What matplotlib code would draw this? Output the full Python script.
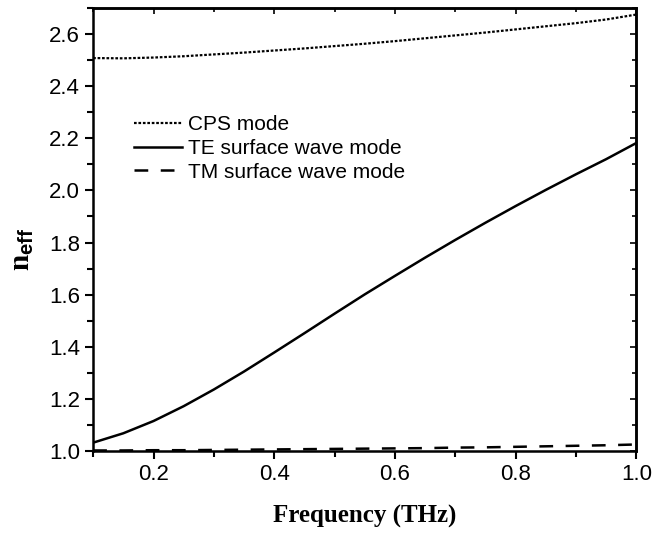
import matplotlib
matplotlib.use("Agg")
import matplotlib.pyplot as plt
from matplotlib.ticker import MultipleLocator

freq = [0.10, 0.15, 0.20, 0.25, 0.30, 0.35, 0.40, 0.45, 0.50, 0.55, 0.60,
        0.65, 0.70, 0.75, 0.80, 0.85, 0.90, 0.95, 1.00]
n_cps = [2.508, 2.507, 2.510, 2.515, 2.522, 2.529, 2.537, 2.545, 2.554, 2.563, 2.573,
         2.584, 2.595, 2.606, 2.618, 2.630, 2.642, 2.656, 2.675]
n_te = [1.032, 1.068, 1.115, 1.172, 1.236, 1.305, 1.378, 1.452, 1.527, 1.601, 1.672,
        1.742, 1.810, 1.876, 1.940, 2.002, 2.062, 2.120, 2.182]
n_tm = [1.002, 1.002, 1.003, 1.003, 1.004, 1.005, 1.006, 1.007, 1.008, 1.009, 1.010,
        1.011, 1.013, 1.014, 1.016, 1.018, 1.020, 1.022, 1.025]

plt.rcParams['font.family'] = ['Liberation Sans', 'DejaVu Sans']
plt.rcParams['mathtext.fontset'] = 'custom'
plt.rcParams['mathtext.bf'] = 'Liberation Serif:bold'
plt.rcParams['mathtext.rm'] = 'Liberation Serif'
plt.rcParams['mathtext.sf'] = 'Liberation Sans:bold'

fig = plt.figure(figsize=(6.56, 5.36), dpi=100)
ax = fig.add_axes([0.142, 0.1586, 0.828, 0.8264])

ax.plot(freq, n_cps, color='black', lw=1.6, linestyle=(0, (1.2, 0.8)), label='CPS mode')
ax.plot(freq, n_te, color='black', lw=1.8, label='TE surface wave mode')
ax.plot(freq, n_tm, color='black', lw=1.8, linestyle=(0, (5.5, 5)), label='TM surface wave mode')

ax.set_xlim(0.1, 1.0)
ax.set_ylim(1.0, 2.7)
ax.xaxis.set_minor_locator(MultipleLocator(0.1))
ax.yaxis.set_minor_locator(MultipleLocator(0.1))
ax.set_xticks([0.2, 0.4, 0.6, 0.8, 1.0])
ax.set_yticks([1.0, 1.2, 1.4, 1.6, 1.8, 2.0, 2.2, 2.4, 2.6])
ax.set_xticklabels(['0.2', '0.4', '0.6', '0.8', '1.0'])
ax.set_yticklabels(['1.0', '1.2', '1.4', '1.6', '1.8', '2.0', '2.2', '2.4', '2.6'])

ax.tick_params(which='major', direction='out', length=6, width=1.5, labelsize=16)
ax.tick_params(which='minor', direction='out', length=4, width=1.5)
for s in ax.spines.values():
    s.set_linewidth(1.8)

# inward ticks on top and right
top = ax.secondary_xaxis('top')
top.xaxis.set_major_locator(MultipleLocator(0.2))
top.xaxis.set_minor_locator(MultipleLocator(0.1))
top.tick_params(which='major', direction='in', length=4, width=1.2, labeltop=False)
top.tick_params(which='minor', direction='in', length=3, width=1.2)
right = ax.secondary_yaxis('right')
right.yaxis.set_major_locator(MultipleLocator(0.2))
right.yaxis.set_minor_locator(MultipleLocator(0.1))
right.tick_params(which='major', direction='in', length=4, width=1.2, labelright=False)
right.tick_params(which='minor', direction='in', length=3, width=1.2)
top.spines['top'].set_linewidth(1.8)
right.spines['right'].set_linewidth(1.8)

ax.set_xlabel('Frequency (THz)', fontsize=18, fontweight='bold',
              family='Liberation Serif', labelpad=14)
ax.set_ylabel(r'$\mathbf{n}_{\mathsf{eff}}$', fontsize=21)
ax.yaxis.set_label_coords(-0.105, 0.455)

ax.legend(loc='upper left', bbox_to_anchor=(0.04, 0.80), frameon=False,
          fontsize=15, handlelength=2.3, handletextpad=0.3, labelspacing=0.22)

fig.savefig('out.png', dpi=100)
